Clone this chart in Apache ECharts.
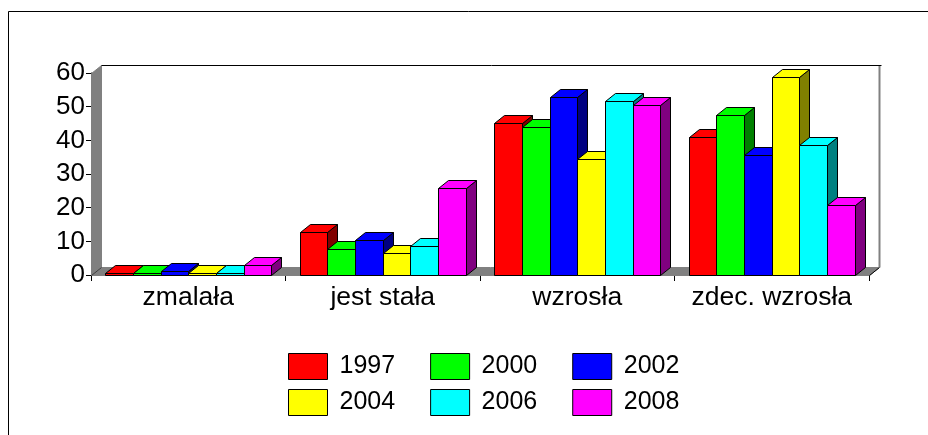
<!DOCTYPE html>
<html>
<head>
<meta charset="utf-8">
<style>
html, body { margin: 0; padding: 0; background: #fff; }
#chart { width: 928px; height: 435px; }
</style>
<script src="https://cdn.jsdelivr.net/npm/echarts@6/dist/echarts.min.js"></script>
</head>
<body>
<div id="chart"></div>
<script>
const categories = ['zmalała', 'jest stała', 'wzrosła', 'zdec. wzrosła'];
const years = ['1997', '2000', '2002', '2004', '2006', '2008'];
const v1997 = [0.5, 12.8, 45.1, 41];
const v2000 = [0.5, 7.7, 44, 47.5];
const v2002 = [1.1, 10.4, 53, 35.6];
const v2004 = [0.5, 6.5, 34.5, 58.8];
const v2006 = [0.6, 8.6, 51.8, 38.6];
const v2008 = [2.9, 25.7, 50.6, 20.7];
const values = [v1997, v2000, v2002, v2004, v2006, v2008];

const frontColors = ['#ff0000', '#00ff00', '#0000ff', '#ffff00', '#00ffff', '#ff00ff'];
const sideColors = ['#800000', '#008000', '#000080', '#808000', '#008080', '#800080'];

const depthX = 10;
const depthY = 8;
const catGap = 14.25;

// back walls and floor, behind the bars
function renderWalls(params, api) {
    const g = params.coordSys;
    const left = g.x + 0.5, right = g.x + g.width + 0.5;
    const top = g.y + 0.5, bottom = g.y + g.height + 0.5;
    const gray = { fill: '#808080', stroke: '#808080', lineWidth: 1 };
    return {
        type: 'group',
        children: [
            {
                type: 'polygon',
                shape: { points: [[left, top], [left + depthX, top - depthY], [left + depthX, bottom - depthY], [left, bottom]] },
                style: gray
            },
            {
                type: 'polygon',
                shape: { points: [[left, bottom], [left + depthX, bottom - depthY], [right + depthX, bottom - depthY], [right, bottom]] },
                style: gray
            },
            {
                type: 'line',
                shape: { x1: left, y1: bottom, x2: left + depthX, y2: bottom - depthY },
                style: { stroke: '#404040', lineWidth: 1 }
            },
            {
                type: 'line',
                shape: { x1: right, y1: bottom, x2: right + depthX, y2: bottom - depthY },
                style: { stroke: '#000', lineWidth: 1 }
            },
            {
                type: 'line',
                shape: { x1: right + depthX, y1: top - depthY, x2: right + depthX, y2: bottom - depthY },
                style: { stroke: '#808080', lineWidth: 2 }
            },
            {
                type: 'line',
                shape: { x1: left + depthX, y1: top - depthY, x2: right + depthX + 2, y2: top - depthY },
                style: { stroke: '#000', lineWidth: 1 }
            }
        ]
    };
}

function renderBar(params, api) {
    const idx = params.seriesIndex - 1;
    const cat = api.value(0);
    const base = api.coord([cat, 0]);
    const head = api.coord([cat, api.value(1)]);
    const catWidth = api.size([1, 0])[0];
    const barWidth = (catWidth - 2 * catGap) / years.length;
    const x0 = Math.round(base[0] - catWidth / 2 + catGap + idx * barWidth) + 0.5;
    const x1 = Math.round(base[0] - catWidth / 2 + catGap + (idx + 1) * barWidth) + 0.5;
    const y0 = Math.round(base[1]) + 0.5;
    const y1 = Math.round(head[1]) + 0.5;
    const line = { stroke: '#000', lineWidth: 1 };
    return {
        type: 'group',
        children: [
            {
                type: 'polygon',
                shape: { points: [[x1, y0], [x1 + depthX, y0 - depthY], [x1 + depthX, y1 - depthY], [x1, y1]] },
                style: Object.assign({ fill: sideColors[idx] }, line)
            },
            {
                type: 'polygon',
                shape: { points: [[x0, y1], [x0 + depthX, y1 - depthY], [x1 + depthX, y1 - depthY], [x1, y1]] },
                style: Object.assign({ fill: frontColors[idx] }, line)
            },
            {
                type: 'rect',
                shape: { x: x0, y: y1, width: x1 - x0, height: y0 - y1 },
                style: Object.assign({ fill: frontColors[idx] }, line)
            }
        ]
    };
}

const barSeries = years.map((year, i) => ({
    name: year,
    type: 'custom',
    coordinateSystem: 'cartesian2d',
    renderItem: renderBar,
    encode: { x: 0, y: 1 },
    itemStyle: { color: frontColors[i], borderColor: '#000', borderWidth: 1 },
    z: 3 + i,
    data: values[i].map((v, c) => [c, v])
}));

function legendRow(names, top) {
    return {
        data: names,
        left: 288,
        top: top,
        padding: 0,
        orient: 'horizontal',
        icon: 'rect',
        itemWidth: 39,
        itemHeight: 26,
        itemGap: 35,
        selectedMode: false,
        itemStyle: { borderColor: '#000', borderWidth: 1 },
        textStyle: {
            fontFamily: 'Liberation Sans',
            fontSize: 25,
            color: '#000',
            padding: [0, 0, 0, 7]
        }
    };
}

const chart = echarts.init(document.getElementById('chart'), null, { renderer: 'canvas' });
chart.setOption({
    animation: false,
    backgroundColor: '#fff',
    tooltip: { show: false },
    graphic: [
        {
            // only the top and left edges of the frame are inside the picture
            type: 'rect',
            shape: { x: 8.5, y: 11.5, width: 1000, height: 1000 },
            style: { fill: 'none', stroke: '#000', lineWidth: 1 },
            silent: true
        }
    ],
    legend: [legendRow(years.slice(0, 3), 353), legendRow(years.slice(3), 389)],
    grid: { left: 91, top: 73, width: 778, height: 202 },
    xAxis: {
        type: 'category',
        data: categories,
        boundaryGap: true,
        axisLine: { show: true, lineStyle: { color: '#000', width: 1 } },
        axisTick: { show: true, alignWithLabel: false, length: 6, lineStyle: { color: '#000', width: 1 } },
        axisLabel: { color: '#000', fontFamily: 'Liberation Sans', fontSize: 26.5, margin: 9, interval: 0 },
        splitLine: { show: false }
    },
    yAxis: {
        type: 'value',
        min: 0,
        max: 60,
        interval: 10,
        axisLine: { show: true, lineStyle: { color: '#000', width: 1 } },
        axisTick: { show: true, length: 5, lineStyle: { color: '#000', width: 1 } },
        axisLabel: { color: '#000', fontFamily: 'Liberation Sans', fontSize: 26, margin: 6 },
        splitLine: { show: false }
    },
    series: [
        {
            name: 'walls',
            type: 'custom',
            coordinateSystem: 'cartesian2d',
            renderItem: renderWalls,
            encode: { x: 0, y: 1 },
            silent: true,
            z: 1,
            data: [[0, 0]]
        }
    ].concat(barSeries)
});
</script>
</body>
</html>
